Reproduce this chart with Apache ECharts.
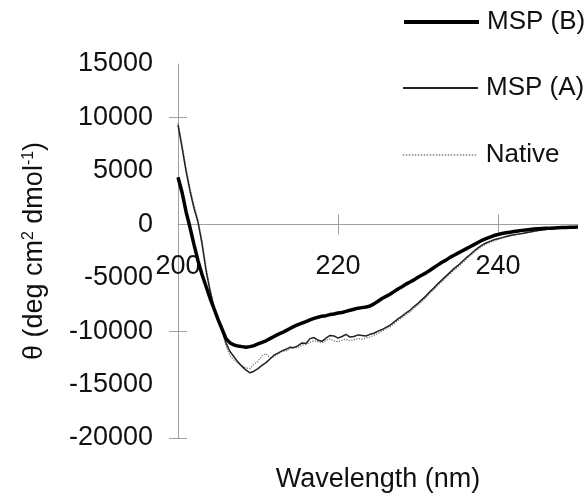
<!DOCTYPE html>
<html>
<head>
<meta charset="utf-8">
<script src="https://cdn.jsdelivr.net/npm/echarts@6/dist/echarts.min.js"></script>
<style>
  html, body { margin: 0; padding: 0; background: #fff; }
  #chart { width: 584px; height: 504px; }
</style>
</head>
<body>
<div id="chart"></div>
<script>
  // wavelength (nm), 0.5 nm steps
  const wavelength = [
    200, 200.5, 201, 201.5, 202, 202.5, 203, 203.5, 204, 204.5,
    205, 205.5, 206, 206.5, 207, 207.5, 208, 208.5, 209, 209.5,
    210, 210.5, 211, 211.5, 212, 212.5, 213, 213.5, 214, 214.5,
    215, 215.5, 216, 216.5, 217, 217.5, 218, 218.5, 219, 219.5,
    220, 220.5, 221, 221.5, 222, 222.5, 223, 223.5, 224, 224.5,
    225, 225.5, 226, 226.5, 227, 227.5, 228, 228.5, 229, 229.5,
    230, 230.5, 231, 231.5, 232, 232.5, 233, 233.5, 234, 234.5,
    235, 235.5, 236, 236.5, 237, 237.5, 238, 238.5, 239, 239.5,
    240, 240.5, 241, 241.5, 242, 242.5, 243, 243.5, 244, 244.5,
    245, 245.5, 246, 246.5, 247, 247.5, 248, 248.5, 249, 249.5,
    250
  ]

  const mspB = [
    4400, 3000, 1200, -300, -1900, -3400, -4700, -5800, -6900, -7900,
    -8900, -9800, -10700, -11100, -11300, -11400, -11450, -11500, -11450, -11350,
    -11200, -11050, -10900, -10700, -10500, -10300, -10150, -9950, -9750, -9550,
    -9400, -9250, -9100, -8950, -8800, -8700, -8600, -8550, -8450, -8400,
    -8300, -8250, -8150, -8050, -7950, -7850, -7800, -7750, -7650, -7450,
    -7200, -6950, -6750, -6550, -6300, -6050, -5850, -5600, -5400, -5200,
    -4950, -4750, -4550, -4300, -4050, -3800, -3550, -3350, -3100, -2900,
    -2700, -2500, -2300, -2100, -1900, -1700, -1500, -1350, -1200, -1050,
    -950, -870, -800, -740, -680, -620, -570, -530, -490, -450,
    -420, -400, -380, -360, -340, -320, -300, -290, -280, -270,
    -260
  ]

  const mspA = [
    9300, 7200, 5000, 3100, 1500, 200, -1800, -4300, -6200, -7800,
    -9000, -9900, -11100, -11900, -12400, -12900, -13300, -13650, -13900, -13750,
    -13500, -13200, -12950, -12600, -12250, -12050, -11850, -11700, -11500, -11550,
    -11350, -11100, -11150, -10700, -10600, -10850, -10950, -10650, -10400, -10450,
    -10650, -10500, -10300, -10550, -10500, -10350, -10400, -10450, -10300, -10200,
    -10000, -9850, -9650, -9450, -9150, -8850, -8600, -8300, -8050, -7700,
    -7400, -7050, -6700, -6300, -5950, -5550, -5200, -4850, -4500, -4150,
    -3850, -3500, -3150, -2850, -2500, -2200, -1950, -1750, -1600, -1450,
    -1350, -1250, -1150, -1050, -980, -920, -860, -790, -720, -650,
    -590, -530, -480, -430, -390, -350, -320, -300, -280, -270,
    -260
  ]

  const native = [
    9500, 7500, 5300, 3400, 1800, 400, -1500, -4000, -6000, -7600,
    -8900, -10000, -11400, -12300, -12700, -13000, -13200, -13450, -13500, -13100,
    -12800, -12300, -12100, -12500, -12400, -12100, -11900, -11850, -11650, -11500,
    -11550, -11300, -11250, -11050, -10900, -11000, -11100, -10850, -10750, -10900,
    -11000, -10850, -10750, -10900, -10800, -10700, -10750, -10650, -10550, -10400,
    -10200, -10000, -9800, -9600, -9300, -9000, -8750, -8450, -8200, -7850,
    -7550, -7200, -6850, -6450, -6100, -5700, -5350, -5000, -4650, -4300,
    -4000, -3650, -3300, -2950, -2650, -2350, -2050, -1850, -1700, -1550,
    -1400, -1300, -1200, -1100, -1020, -950, -880, -810, -740, -670,
    -600, -540, -490, -440, -400, -360, -330, -310, -290, -275,
    -265
  ]

  const xLabels = [200, 220, 240]
  const xTicks = [220, 240]
  const yTicks = [-20000, -10000, 10000]

  const font = 'Liberation Sans, Arial, sans-serif'
  const axisColor = '#a0a0a0'

  // y = 0 sits at 15000/35000 of the plot height (grid 64..438)
  const zeroFromTop = 374 * 15000 / 35000
  const zeroFromBottom = 374 - zeroFromTop

  function pairs(values) {
    return wavelength.map((w, i) => [w, values[i]])
  }

  function legendAt(name, top, line) {
    return {
      data: [name],
      left: 402,
      top: top,
      padding: 0,
      itemWidth: 75,
      itemHeight: 14,
      itemStyle: { opacity: 0 },
      lineStyle: line,
      textStyle: { fontSize: 26, fontFamily: font, color: '#111', padding: [0, 0, 0, 3] }
    }
  }

  const chart = echarts.init(document.getElementById('chart'))

  const option = {
    animation: false,
    backgroundColor: '#fff',
    grid: { left: 178, right: 6, top: 64, bottom: 66, outerBoundsMode: 'none', containLabel: false },
    legend: [
      legendAt('MSP (B)', 9, { width: 4, color: '#000' }),
      legendAt('MSP (A)', 75, { width: 2, color: '#222' }),
      legendAt('Native', 142, { width: 1.5, color: '#888', type: 'dotted' })
    ],
    xAxis: [
      {
        type: 'value',
        min: 200,
        max: 250,
        position: 'bottom',
        offset: -zeroFromBottom,
        axisLine: { onZero: false, lineStyle: { color: axisColor, width: 1 } },
        axisTick: { show: true, customValues: xTicks, length: 10, lineStyle: { color: axisColor } },
        axisLabel: { customValues: xLabels, margin: 29, fontSize: 27, fontFamily: font, color: '#111' },
        splitLine: { show: false },
        name: 'Wavelength (nm)',
        nameLocation: 'middle',
        nameGap: 242,
        nameTextStyle: { fontSize: 27, fontFamily: font, color: '#111' }
      },
      {
        // second copy so the tick marks cross the line
        type: 'value',
        min: 200,
        max: 250,
        position: 'top',
        offset: -zeroFromTop,
        axisLine: { show: false, onZero: false },
        axisTick: { show: true, customValues: xTicks, length: 10, lineStyle: { color: axisColor } },
        axisLabel: { show: false },
        splitLine: { show: false }
      }
    ],
    yAxis: [
      {
        type: 'value',
        min: -20000,
        max: 15000,
        interval: 5000,
        position: 'left',
        axisLine: { show: true, onZero: false, lineStyle: { color: axisColor, width: 1 } },
        axisTick: { show: true, customValues: yTicks, length: 9, lineStyle: { color: axisColor } },
        axisLabel: {
          margin: 25, fontSize: 27, fontFamily: font, color: '#111',
          formatter: v => String(v)
        },
        splitLine: { show: false },
        name: '\u03b8 (deg cm{sup|2} dmol{sup|-1})',
        nameLocation: 'middle',
        nameRotate: 90,
        nameGap: 130,
        nameTextStyle: {
          fontSize: 27,
          fontFamily: font,
          color: '#111',
          rich: {
            sup: { fontSize: 16, fontFamily: font, color: '#111', verticalAlign: 'top', lineHeight: 16 }
          }
        }
      },
      {
        type: 'value',
        min: -20000,
        max: 15000,
        interval: 5000,
        position: 'left',
        axisLine: { show: false, onZero: false },
        axisTick: { show: true, inside: true, customValues: yTicks, length: 9, lineStyle: { color: axisColor } },
        axisLabel: { show: false },
        splitLine: { show: false }
      }
    ],
    series: [
      {
        name: 'Native',
        type: 'line',
        data: pairs(native),
        symbol: 'none',
        lineStyle: { color: '#808080', width: 1.3, type: 'dotted' },
        itemStyle: { color: '#808080' }
      },
      {
        name: 'MSP (A)',
        type: 'line',
        data: pairs(mspA),
        symbol: 'none',
        lineStyle: { color: '#222', width: 1.5 },
        itemStyle: { color: '#222' }
      },
      {
        name: 'MSP (B)',
        type: 'line',
        data: pairs(mspB),
        symbol: 'none',
        lineStyle: { color: '#000', width: 3.5 },
        itemStyle: { color: '#000' }
      }
    ]
  }

  chart.setOption(option)
</script>
</body>
</html>
